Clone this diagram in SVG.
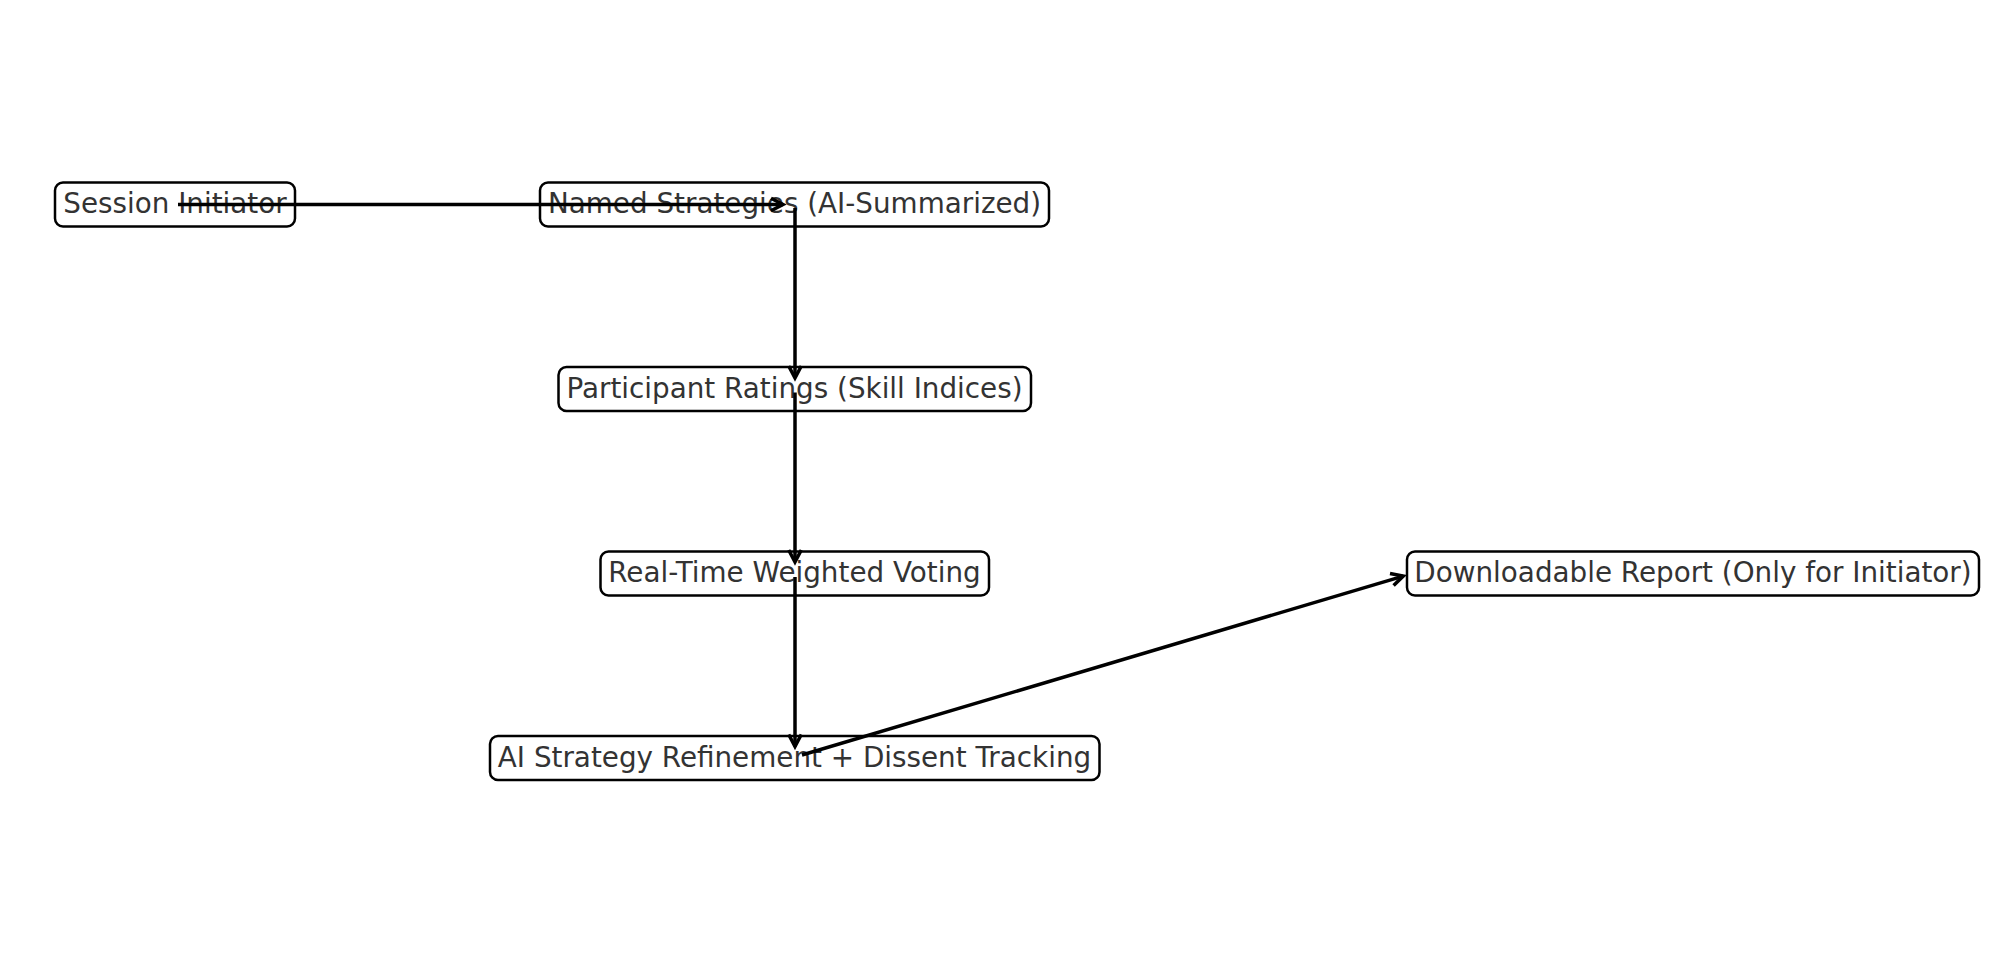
<svg xmlns="http://www.w3.org/2000/svg" width="1991" height="964" viewBox="0 0 1991 964">
<defs>
<marker id="arr" markerUnits="userSpaceOnUse" markerWidth="40" markerHeight="40" viewBox="-20 -20 40 40" refX="0" refY="0" orient="auto">
<path d="M-12,-6.3 L0,0 L-12,6.3" fill="none" stroke="#000" stroke-width="3.5" stroke-linejoin="miter"/>
</marker>
<style>
.box{fill:#fff;stroke:#000;stroke-width:2.5}
.lbl{font-family:"DejaVu Sans",sans-serif;font-size:27.8px;fill:#333;text-anchor:middle}
.edge{fill:none;stroke:#000;stroke-width:3.5;marker-end:url(#arr)}
</style>
</defs>
<rect width="1991" height="964" fill="#fff"/>
<g id="n-session">
<rect class="box" x="55" y="182.5" width="240" height="44" rx="8"/>
<text class="lbl" x="175" y="213">Session Initiator</text>
</g>
<g id="n-named">
<rect class="box" x="540" y="182.5" width="509" height="44" rx="8"/>
<text class="lbl" x="794.5" y="213">Named Strategies (AI-Summarized)</text>
</g>
<g id="n-ratings">
<rect class="box" x="558.5" y="367" width="472.5" height="44" rx="8"/>
<text class="lbl" x="794.5" y="397.5">Participant Ratings (Skill Indices)</text>
</g>
<g id="n-voting">
<rect class="box" x="600.5" y="551.5" width="388.5" height="44" rx="8"/>
<text class="lbl" x="794.5" y="582">Real-Time Weighted Voting</text>
</g>
<g id="n-refine">
<rect class="box" x="490" y="736" width="609.5" height="44" rx="8"/>
<text class="lbl" x="794.5" y="766.5">AI Strategy Refinement + Dissent Tracking</text>
</g>
<g id="n-report">
<rect class="box" x="1407" y="551.5" width="572" height="44" rx="8"/>
<text class="lbl" x="1693" y="582">Downloadable Report (Only for Initiator)</text>
</g>
<g id="edges">
<path class="edge" d="M178,204.5 L783,204.5"/>
<path class="edge" d="M795,208 L795,378"/>
<path class="edge" d="M795,392.5 L795,562"/>
<path class="edge" d="M795,577 L795,746.5"/>
<path class="edge" d="M802,755 L1403.3,576.1"/>
</g>
</svg>
